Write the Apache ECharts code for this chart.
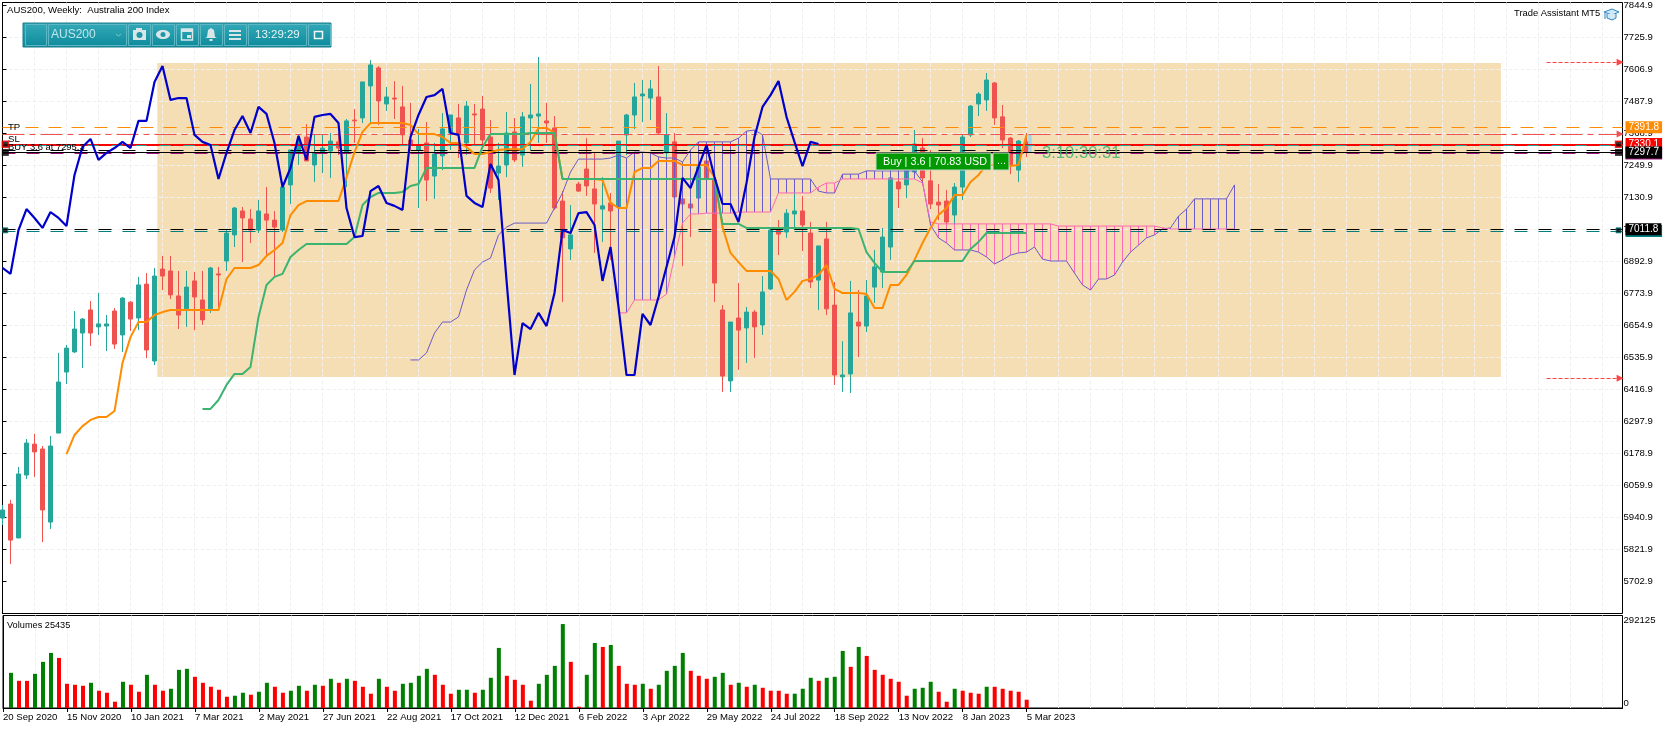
<!DOCTYPE html>
<html><head><meta charset="utf-8">
<style>html,body{margin:0;padding:0;background:#fff}#c{width:1670px;height:729px}</style>
<script src="https://cdn.jsdelivr.net/npm/echarts@6/dist/echarts.min.js"></script></head>
<body><div id="c"></div>
<script>
// weekly candles: open, close, low, high
const ohlc = [
[5938,5968,5912,5987],[5990,5856,5767,6005],[5864,6102,5864,6128],[6098,6217,6083,6232],[6213,6184,6091,6251],[6195,5968,5849,6206],[5923,6206,5897,6243],[6254,6444,6254,6552],
[6481,6570,6437,6582],[6556,6641,6552,6708],[6626,6678,6496,6682],[6712,6626,6578,6745],[6649,6660,6619,6775],[6652,6660,6559,6693],[6708,6585,6567,6719],[6619,6756,6556,6760],
[6741,6678,6634,6745],[6682,6805,6637,6835],[6808,6563,6533,6849],[6522,6838,6507,6868],[6864,6838,6786,6913],[6857,6768,6753,6913],[6764,6693,6641,6857],[6716,6797,6649,6857],
[6820,6760,6637,6853],[6749,6675,6656,6857],[6716,6868,6701,6872],[6846,6842,6712,6872],[6894,6998,6857,7009],[6991,7091,6946,7095],[7080,7054,6890,7095],[7050,7009,6961,7087],
[7009,7080,6998,7121],[7069,7046,6913,7169],[7046,7020,6838,7080],[7009,7169,7002,7188],[7177,7307,7106,7307],[7296,7344,7251,7363],[7355,7266,7266,7403],[7251,7296,7188,7363],
[7296,7314,7221,7363],[7303,7340,7203,7370],[7337,7314,7288,7370],[7296,7415,7169,7422],[7418,7415,7333,7459],[7426,7560,7407,7560],[7545,7623,7403,7641],[7612,7489,7400,7619],
[7478,7504,7452,7541],[7500,7496,7422,7563],[7467,7363,7325,7545],[7344,7329,7307,7482],[7307,7322,7091,7385],[7333,7195,7117,7411],[7210,7292,7125,7333],[7285,7385,7232,7444],
[7370,7437,7307,7437],[7426,7366,7277,7478],[7333,7470,7288,7489],[7441,7437,7325,7478],[7459,7344,7318,7508],[7355,7165,7147,7418],[7221,7247,7121,7333],[7251,7370,7206,7448],
[7374,7270,7262,7426],[7288,7430,7244,7448],[7426,7437,7307,7552],[7433,7441,7333,7653],[7415,7407,7333,7482],[7389,7091,7084,7433],[7117,6980,6741,7154],[6939,6991,6898,7102],
[7180,7154,7151,7188],[7236,7173,7136,7351],[7162,7106,6924,7296],[7087,7099,6965,7206],[7110,7080,6898,7147],[7095,7340,7084,7340],[7363,7437,7288,7441],[7437,7504,7385,7556],
[7508,7515,7411,7567],[7500,7534,7418,7567],[7504,7370,7366,7619],[7296,7363,7244,7444],[7337,7132,7132,7370],[7125,7106,6875,7177],[7106,7091,6983,7288],[7128,7244,7110,7258],
[7266,7203,7139,7266],[7195,6812,6741,7195],[6712,6466,6407,6730],[6448,6667,6407,6667],[6682,6637,6489,6812],[6645,6704,6515,6723],[6704,6649,6533,6712],[6656,6779,6619,6838],
[6790,7009,6786,7017],[7009,6994,6916,7046],[7002,7072,6980,7087],[7069,7080,7009,7147],[7080,7028,6931,7136],[6998,6816,6794,7039],[6823,6950,6712,6950],[6976,6716,6693,7039],
[6730,6470,6433,6816],[6463,6470,6407,6596],[6474,6701,6403,6820],[6667,6652,6537,6786],[6652,6764,6630,6823],[6797,6872,6738,6935],[6853,6983,6794,7017],[6946,7203,6898,7232],
[7188,7162,7091,7232],[7177,7232,7128,7258],[7225,7329,7203,7381],[7314,7203,7177,7351],[7192,7106,7087,7307],[7113,7102,7046,7180],[7117,7039,6998,7158],[7065,7169,7020,7184],
[7169,7355,7121,7363],[7363,7470,7355,7474],[7478,7515,7433,7522],[7493,7567,7452,7593],[7556,7426,7400,7560],[7430,7344,7314,7474],[7351,7251,7217,7355],[7232,7340,7188,7344],
[7337,7297.7,7281,7370]];
const chikou = [6868,6846,7009,7087,7054,7017,7076,7054,7024,7214,7318,7348,7270,7296,7314,7337,7314,7415,7415,7560,7619,7493,7500,7500,7363,7337,7325,7199,7296,7381,7433,7370,7467,7441,7333,7169,7240,7359,7270,7430,7437,7441,7407,7091,6983,6987,7154,7173,7110,7099,7084,
7355,7437,7504,7511,7534,7370,7363,7136,7110,7095,7255,7195,6823,6470,6663,6641,6701,6652,6775,7009,6998,7072,7076,7028,6820,6946,6723,6470,6470,6697,6656,6760,6872,6983,7203,7165,7244,7325,7206,7106,7106,7039,7184,7355,7467,7511,7563,7430,7337,7247,7337,7329];
const tenkanStart = 8;
const tenkan = [6176,6247,6280,6303,6314,6314,6336,6515,6611,6667,6667,6693,6704,6712,6712,6712,6712,6712,6712,6712,
6827,6868,6868,6868,6879,6913,6935,6961,7065,7102,7117,7117,7117,7117,7117,7206,7299,7374,7407,7407,7407,7407,7407,7400,7366,7366,7366,7355,7333,7333,7318,7292,7292,7299,7307,7310,7310,7310,7337,7389,7389,7370,
7199,7199,7199,7199,7199,7195,7110,7091,7091,7225,7240,7240,7266,7266,7266,7251,7251,7251,7251,7206,7020,6924,6890,6857,6857,6857,6857,6827,6749,6779,6820,6827,6842,6879,6790,6775,6775,6775,6771,6719,6719,6805,6805,6842,6898,6961,7017,7065,7091,7139,7139,7188,7214,7251,7251,7251,7247,7251,7363];
const kijunStart = 25;
const kijun = [6344,6344,6377,6433,6474,6474,6500,6686,6805,6835,6846,6909,6935,6957,6957,6957,6957,6957,6957,6983,7102,7132,7147,7147,7147,7151,7173,7180,
7240,7240,7240,7240,7240,7240,7240,7318,7366,7366,7366,7366,7366,7370,7370,7370,7370,
7199,7199,7199,7199,7199,7199,7199,7199,7199,7199,7199,7199,7199,7199,7199,7199,7199,7199,7199,7199,
7032,7032,7032,7017,7017,7017,7017,7017,7017,7017,7017,7017,7017,7017,7017,7017,7017,7013,6927,6887,6853,6853,6853,6853,6894,6894,6894,6894,6894,6894,6894,6939,6965,6998,6998,6998,6998,6998,6998];
const spanAStart = 51;
const spanA = [6526,6526,6552,6626,6667,6667,6686,6786,6861,6890,6905,6991,7020,7035,7035,7035,7035,7035,7091,7147,7225,7273,7273,7273,7273,7277,7288,7277,7299,7299,7296,7281,7277,7277,7262,7307,7337,7337,7337,7337,7337,7351,7377,7381,7363,7199,7199,7199,7199,7199,7199,7154,7147,7147,7217,7217,7217,7229,7229,7229,7229,7229,7229,7229,7188,7028,6980,6961,6935,6935,6935,6927,6909,6883,6898,6916,6924,6927,6946,6901,6894,6894,6894,6849,6805,6786,6827,6827,6842,6890,6927,6953,6980,6991,7013,7017,7061,7087,7125,7125,7125,7125,7125,7177];
const spanBStart = 77;
const spanB = [6701,6701,6749,6749,6749,6749,6771,6909,7035,7069,7069,7072,7072,7072,7072,7076,7076,7076,7076,7076,7147,7147,7147,7147,7147,7169,7184,7184,7199,7199,7199,7199,7199,7199,7199,7199,7199,7199,7184,7039,
7032,7032,7032,7032,7032,7032,7032,7032,7032,7032,7032,7032,7032,7032,7032,
7024,7024,7024,7024,7024,7024,7024,7024,7024,7024,7024,7024,7024,7017,7013,7013,7013,7013,7013,7013,7013,7013,7013];
const volumes = [null,111100,85900,85800,107900,145700,174000,158200,76500,73400,70200,79600,54500,48200,19900,82800,73400,51400,104800,73400,54500,60800,120500,123700,98500,79600,67100,57600,35600,38800,48200,41900,51400,79600,67100,48200,54500,70200,54500,73400,70200,92200,79600,92200,85900,67100,45100,92200,67100,54500,76500,79600,101700,123700,104800,73400,45100,57600,57700,48200,57600,95400,189700,101700,89100,73400,23100,76500,104800,133100,265100,145700,4200,104800,205400,192800,199100,133100,76500,73400,76500,60800,73400,117400,133100,174000,117400,101700,92200,98500,111100,73400,79600,67100,73400,63900,54500,54400,45100,45200,60800,95400,85900,95400,98500,180300,130000,192800,164500,120500,104800,92200,82800,38800,60800,63900,82800,51400,19900,60800,54500,48200,45100,67100,67000,60800,54500,51400,26200];
const priceTicks = [7844.9,7725.9,7606.9,7487.9,7368.9,7249.9,7130.9,7011.9,6892.9,6773.9,6654.9,6535.9,6416.9,6297.9,6178.9,6059.9,5940.9,5821.9,5702.9];
const dateTicks = ['20 Sep 2020','15 Nov 2020','10 Jan 2021','7 Mar 2021','2 May 2021','27 Jun 2021','22 Aug 2021','17 Oct 2021','12 Dec 2021','6 Feb 2022','3 Apr 2022','29 May 2022','24 Jul 2022','18 Sep 2022','13 Nov 2022','8 Jan 2023','5 Mar 2023'];
const volumeTicks = [0,292125];
const rangeTop = 7630, rangeBottom = 6463, rangeFrom = 19.35, rangeTo = 187.3;

const FONT = '"Liberation Sans", sans-serif', FS = 9.6;
const UP = '#26A69A', DOWN = '#EF5350', GRID = '#f0f0f0';
const fromStart = (arr, s) => arr.map((v, k) => [s + k, v]);
const candleData = ohlc.map((r, i) => [i, r[0], r[1], r[2], r[3]]);
const volData = volumes.map((v, i) => ({value: [i, v], itemStyle: {color: (i < 2 || v > volumes[i - 1]) ? '#008000' : '#FF0000'}}));
const cloudData = [];
for (let i = spanBStart; i < spanAStart + spanA.length; i++) cloudData.push([i, spanA[i - spanAStart], spanB[i - spanBStart]]);

function tag(text, bg, fg) {
  return {show: true, position: 'end', distance: 3, formatter: text, backgroundColor: bg, color: fg, fontFamily: FONT, fontSize: 10, lineHeight: 10, padding: [1, 3, 1, 3]};
}
const noLabel = {show: false};
const tradeLines = [
  {yAxis: 7391.8, lineStyle: {color: '#FF8C00', type: [13, 10], width: 1}, label: tag('7391.8', '#FF8C00', '#fff')},
  {yAxis: 7329.5, lineStyle: {color: '#FF0000', type: 'solid', width: 1}, label: tag('7330.1', '#FF0000', '#fff')},
  {yAxis: 7325.5, lineStyle: {color: '#26A69A', type: 'solid', width: 1}, label: noLabel},
  {yAxis: 7325.5, lineStyle: {color: '#FF0000', type: [13, 11], width: 2}, label: noLabel},
  {yAxis: 7304.8, lineStyle: {color: '#000', type: [13, 11], width: 1}, label: noLabel},
  {yAxis: 7293.5, lineStyle: {color: '#A0147C', type: [13, 11], width: 1}, label: tag('7293.5', '#A0147C', '#A0147C')},
  {yAxis: 7297.7, lineStyle: {color: '#000', type: 'solid', width: 1}, label: tag('7297.7', '#000', '#fff')},
  {yAxis: 7005.5, lineStyle: {color: '#008080', type: [13, 11], width: 1}, label: tag('7005.5', '#008080', '#008080')},
  {yAxis: 7011.8, lineStyle: {color: '#000', type: [13, 11], width: 1}, label: tag('7011.8', '#000', '#fff')}
];
const arrowLines = [
  [{coord: [193, 7633], lineStyle: {color: '#F44', type: [4, 2], width: 1}}, {coord: [202.2, 7633]}],
  [{coord: [193, 6458], lineStyle: {color: '#F44', type: [4, 2], width: 1}}, {coord: [202.2, 6458]}],
  [{coord: [0, 7366], lineStyle: {color: '#EF5350', type: [22, 5, 6, 5], width: 1}}, {coord: [202.2, 7366]}]
];
const markers = [
  {value: [0.35, 7328], symbolSize: 6, itemStyle: {color: '#000', borderColor: '#f00', borderWidth: 1.5}},
  {value: [0.35, 7297.7], symbolSize: 7, itemStyle: {color: '#000'}},
  {value: [0.35, 7008], symbolSize: 5, itemStyle: {color: '#000', borderColor: '#008080', borderWidth: 1}},
  {value: [202.0, 7328], symbolSize: 6, itemStyle: {color: '#000', borderColor: '#f00', borderWidth: 1.5}},
  {value: [202.0, 7297.7], symbolSize: 7, itemStyle: {color: '#000'}},
  {value: [202.0, 7008], symbolSize: 5, itemStyle: {color: '#000', borderColor: '#008080', borderWidth: 1}}
];
function lineSeries(name, data, color, width, z) {
  return {name, type: 'line', data, xAxisIndex: 0, yAxisIndex: 0, symbol: 'none', showSymbol: false, smooth: false,
    lineStyle: {color, width}, itemStyle: {color}, z, animation: false, silent: true};
}

const g = [];
const txt = (x, y, text, o = {}) => g.push({type: 'text', z: 100, x, y, silent: true, style: Object.assign({text, fill: '#000', font: `${FS}px ${FONT}`, textVerticalAlign: 'middle', verticalAlign: 'middle'}, o)});
txt(7, 10, 'AUS200, Weekly:  Australia 200 Index', {font: `9.6px ${FONT}`});
txt(1514, 13.5, 'Trade Assistant MT5', {font: `9.4px ${FONT}`});
txt(8, 127, 'TP', {font: `9.6px ${FONT}`});
txt(8, 139, 'SL', {font: `9.6px ${FONT}`});
txt(8, 147, 'BUY 3.6 at 7295.3', {font: `9.4px ${FONT}`});
txt(7, 625, 'Volumes 25435', {font: `9.2px ${FONT}`});
g.push({type: 'polygon', z: 100, silent: true, shape: {points: [[1604, 12], [1612, 9], [1619, 12], [1612, 15]]}, style: {fill: '#CFE9F7', stroke: '#2E86C1', lineWidth: 1}});
g.push({type: 'polyline', z: 100, silent: true, shape: {points: [[1607, 14], [1607, 18], [1612, 20], [1616, 18], [1616, 14]]}, style: {fill: '#CFE9F7', stroke: '#2E86C1', lineWidth: 1}});
g.push({type: 'line', z: 100, silent: true, shape: {x1: 1605, y1: 13, x2: 1605, y2: 19}, style: {stroke: '#2E86C1', lineWidth: 1}});
const tbGrad = new echarts.graphic.LinearGradient(0, 0, 0, 1, [{offset: 0, color: '#35AAB9'}, {offset: 1, color: '#0C8A9B'}]);
g.push({type: 'rect', z: 100, silent: true, shape: {x: 23, y: 23, width: 308, height: 24}, style: {fill: tbGrad, stroke: '#1C7A89', lineWidth: 1}});
[[25, 21], [48, 78], [128, 22], [152, 22], [176, 22], [200, 22], [224, 22], [248, 58], [308, 22]].forEach(s => g.push({type: 'rect', z: 100, silent: true, shape: {x: s[0] + .5, y: 24.5, width: s[1], height: 21}, style: {fill: 'none', stroke: '#5CB8C5', lineWidth: 1}}));
txt(51, 35, 'AUS200', {fill: '#BFE6EC', font: `12px ${FONT}`});
txt(255, 35, '13:29:29', {fill: '#E4F5F7', font: `11.5px ${FONT}`});
g.push({type: 'polyline', z: 100, silent: true, shape: {points: [[116, 34], [118.5, 36], [121, 34]]}, style: {fill: 'none', stroke: '#7CC', lineWidth: 1}});
const ICON = '#D8E6E8';
g.push({type: 'rect', z: 100, silent: true, shape: {x: 133, y: 30, width: 13, height: 10}, style: {fill: ICON}});
g.push({type: 'rect', z: 100, silent: true, shape: {x: 136, y: 28, width: 6, height: 3}, style: {fill: ICON}});
g.push({type: 'circle', z: 100, silent: true, shape: {cx: 139.5, cy: 35, r: 3}, style: {fill: '#1E98A8'}});
g.push({type: 'ellipse', z: 100, silent: true, shape: {cx: 163, cy: 34.5, rx: 7, ry: 4.5}, style: {fill: ICON}});
g.push({type: 'circle', z: 100, silent: true, shape: {cx: 163, cy: 34.5, r: 2.5}, style: {fill: '#1E98A8'}});
g.push({type: 'rect', z: 100, silent: true, shape: {x: 181.5, y: 29, width: 11, height: 11}, style: {fill: 'none', stroke: ICON, lineWidth: 1.5}});
g.push({type: 'rect', z: 100, silent: true, shape: {x: 181, y: 29, width: 12, height: 3}, style: {fill: ICON}});
g.push({type: 'rect', z: 100, silent: true, shape: {x: 187, y: 35, width: 4, height: 3}, style: {fill: ICON}});
g.push({type: 'polygon', z: 100, silent: true, shape: {points: [[211, 28], [214, 30], [215, 37], [217, 38], [205, 38], [207, 37], [208, 30]]}, style: {fill: ICON}});
g.push({type: 'rect', z: 100, silent: true, shape: {x: 209.5, y: 39, width: 3, height: 2}, style: {fill: ICON}});
[30, 34, 38].forEach(y => g.push({type: 'rect', z: 100, silent: true, shape: {x: 229, y, width: 12, height: 2}, style: {fill: ICON}}));
g.push({type: 'rect', z: 100, silent: true, shape: {x: 314.5, y: 31.5, width: 8, height: 7}, style: {fill: 'none', stroke: '#F0F8F9', lineWidth: 1.5}});
g.push({type: 'rect', z: 100, silent: true, shape: {x: 876, y: 153, width: 115, height: 17}, style: {fill: '#009900', stroke: '#C8D8C8', lineWidth: 1}});
g.push({type: 'rect', z: 100, silent: true, shape: {x: 993, y: 153, width: 16, height: 17}, style: {fill: '#009900', stroke: '#C8D8C8', lineWidth: 1}});
txt(883, 162, 'Buy | 3.6 | 70.83 USD', {fill: '#fff', font: `10.8px ${FONT}`});
txt(997, 161, '...', {fill: '#fff', font: `10.8px ${FONT}`});
txt(1042, 153.5, '3:10:30:31', {fill: '#3CB371', opacity: .85, font: `16.6px ${FONT}`});

const chart = echarts.init(document.getElementById('c'), null, {renderer: 'canvas'});
const xCommon = {type: 'value', min: 0, max: 202.5, interval: 4, z: 1.5, axisLine: {show: false}, axisTick: {show: false}, axisLabel: {show: false},
  splitLine: {show: true, showMinLine: false, showMaxLine: false, lineStyle: {color: GRID, type: [4, 2], width: 1}}};
chart.setOption({
  animation: false,
  backgroundColor: '#fff',
  textStyle: {fontFamily: FONT},
  tooltip: {show: false},
  grid: [
    {left: 2.5, width: 1620, top: 2.5, height: 611, show: true, borderColor: '#000', borderWidth: 1, backgroundColor: 'transparent'},
    {left: 2.5, width: 1620, top: 615.5, height: 92.5, show: true, borderColor: '#000', borderWidth: 1, backgroundColor: 'transparent'}
  ],
  xAxis: [
    Object.assign({gridIndex: 0}, xCommon),
    Object.assign({gridIndex: 1}, xCommon),
    {gridIndex: 1, type: 'value', min: 0, max: 202.5, position: 'bottom', axisLine: {show: true, lineStyle: {color: '#000'}},
      splitLine: {show: false},
      axisTick: {show: true, length: 4, lineStyle: {color: '#000'}, customValues: dateTicks.map((d, k) => k * 8)},
      axisLabel: {show: true, align: 'left', margin: 4, color: '#000', fontFamily: FONT, fontSize: FS, customValues: dateTicks.map((d, k) => k * 8), formatter: v => dateTicks[Math.round(v / 8)] || ''}}
  ],
  yAxis: [
    {gridIndex: 0, type: 'value', position: 'right', min: 5583.1, max: 7855.3, z: 2,
      axisLine: {show: true, lineStyle: {color: '#000'}},
      axisTick: {show: true, length: 4, lineStyle: {color: '#000'}, customValues: priceTicks},
      axisLabel: {show: true, margin: 1, color: '#000', fontFamily: FONT, fontSize: FS, customValues: priceTicks, formatter: v => v.toFixed(1)},
      splitLine: {show: true, showMinLine: false, showMaxLine: false, lineStyle: {color: GRID, type: [4, 2], width: 1}}},
    {gridIndex: 1, type: 'value', position: 'right', min: 0, max: 292125, z: 2,
      axisLine: {show: true, lineStyle: {color: '#000'}},
      axisTick: {show: true, length: 4, lineStyle: {color: '#000'}, customValues: volumeTicks},
      axisLabel: {show: true, margin: 1, color: '#000', fontFamily: FONT, fontSize: FS, customValues: volumeTicks, verticalAlignMinLabel: 'bottom', verticalAlignMaxLabel: 'top', formatter: v => String(v)},
      splitLine: {show: false}}
  ],
  series: [
    {name: 'range', type: 'line', data: [[0, 7297.7]], symbol: 'none', xAxisIndex: 0, yAxisIndex: 0, silent: true,
      markArea: {z: 1, silent: true, itemStyle: {color: '#F5DEB3', opacity: 1},
        data: [[{coord: [rangeFrom, rangeTop]}, {coord: [rangeTo, rangeBottom]}]]}},
    {name: 'candles', type: 'candlestick', xAxisIndex: 0, yAxisIndex: 0, z: 3, barWidth: 5, encode: {x: 0, y: [1, 2, 3, 4]},
      data: candleData, silent: true,
      itemStyle: {color: UP, color0: DOWN, borderColor: UP, borderColor0: DOWN, borderWidth: 1}},
    {name: 'stop zone', type: 'line', data: [[128, 7297.7]], symbol: 'none', xAxisIndex: 0, yAxisIndex: 0, silent: true, z: 4,
      markArea: {z: 4, silent: true, itemStyle: {color: '#A8D4E6', opacity: 1},
        data: [[{coord: [128.2, 7366]}, {coord: [128.65, 7296]}]]}},
    {name: 'cloud', type: 'custom', xAxisIndex: 0, yAxisIndex: 0, z: 4, silent: true, data: cloudData, encode: {x: 0, y: [1, 2]},
      renderItem(params, api) {
        const a = api.coord([api.value(0), api.value(1)]), b = api.coord([api.value(0), api.value(2)]);
        const x = Math.round(a[0] - .5) + .5;
        return {type: 'line', shape: {x1: x, y1: a[1], x2: x, y2: b[1]},
          style: {stroke: api.value(1) >= api.value(2) ? '#6A5ACD' : '#FF69B4', lineWidth: 1}};
      }},
    lineSeries('Senkou A', fromStart(spanA, spanAStart), '#6A5ACD', 1, 4),
    lineSeries('Senkou B', fromStart(spanB, spanBStart), '#FF69B4', 1, 4),
    {name: 'trade', type: 'line', data: [[0, 7297.7]], symbol: 'none', xAxisIndex: 0, yAxisIndex: 0, z: 5, silent: true,
      markLine: {z: 5, silent: true, symbol: 'none', animation: false, data: tradeLines}},
    {name: 'arrows', type: 'line', data: [[0, 7297.7]], symbol: 'none', xAxisIndex: 0, yAxisIndex: 0, z: 5, silent: true,
      markLine: {z: 5, silent: true, symbol: ['none', 'triangle'], symbolSize: 7, animation: false, label: {show: false}, data: arrowLines}},
    lineSeries('Tenkan', fromStart(tenkan, tenkanStart), '#FF8C00', 2, 6),
    lineSeries('Kijun', fromStart(kijun, kijunStart), '#3CB371', 2, 6),
    lineSeries('Chikou', fromStart(chikou, 0), '#0000CD', 2.2, 7),
    {name: 'markers', type: 'scatter', xAxisIndex: 0, yAxisIndex: 0, symbol: 'rect', z: 8, silent: true, data: markers, clip: false},
    {name: 'Volumes', type: 'bar', xAxisIndex: 1, yAxisIndex: 1, barWidth: 4, data: volData, silent: true, z: 3}
  ],
  graphic: g
});
</script></body></html>
